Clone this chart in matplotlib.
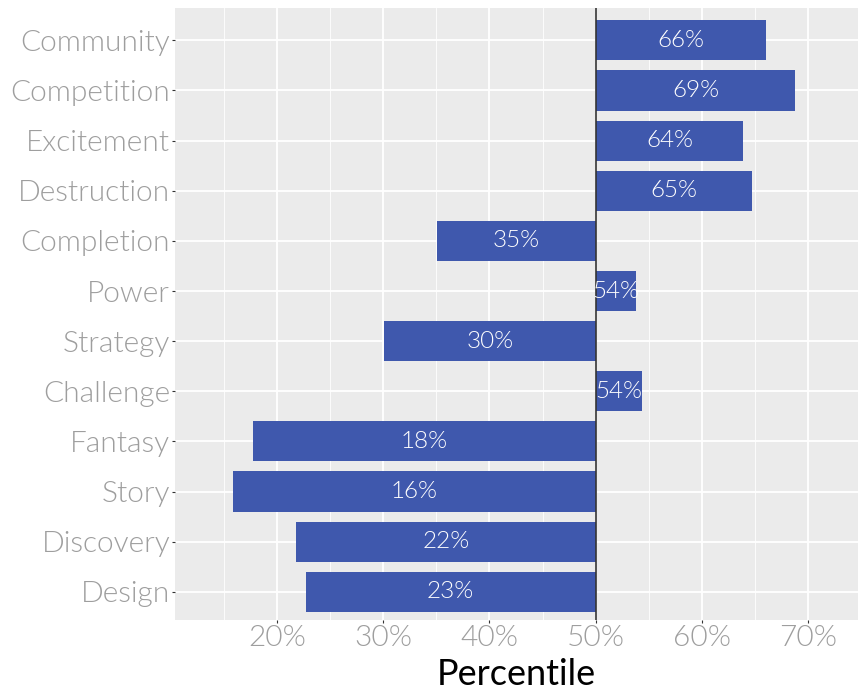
import matplotlib
matplotlib.use('Agg')
import matplotlib.pyplot as plt
import numpy as np

# Motivation percentiles (top to bottom)
categories = ["Community", "Competition", "Excitement", "Destruction", "Completion",
              "Power", "Strategy", "Challenge", "Fantasy", "Story", "Discovery", "Design"]
values = [66.0, 68.8, 63.9, 64.7, 35.1, 53.8, 30.1, 54.4, 17.7, 15.9, 21.8, 22.7]
labels = ["66%", "69%", "64%", "65%", "35%", "54%", "30%", "54%", "18%", "16%", "22%", "23%"]
xticks = [20, 30, 40, 50, 60, 70]
baseline = 50

plt.rcParams['font.family'] = ['Lato', 'DejaVu Sans']
w = 300  # Lato Light

fig = plt.figure(figsize=(8.58, 6.91), dpi=100)
ax = fig.add_axes([0.204, 0.103, 0.796, 0.885])
ax.set_facecolor('#EBEBEB')

y = np.arange(len(categories))[::-1]
vals = np.array(values)

ax.set_axisbelow(True)
ax.set_xticks(xticks)
ax.set_xticks([15, 25, 35, 45, 55, 65, 75], minor=True)
ax.grid(which='major', color='white', linewidth=1.3)
ax.grid(which='minor', axis='x', color='white', linewidth=0.6)

ax.barh(y, vals - baseline, left=baseline, height=0.8, color='#3F58AD', zorder=2)
ax.axvline(baseline, color='#333333', linewidth=1.2, zorder=3)

for yi, v, lab in zip(y, vals, labels):
    ax.text((v + baseline) / 2, yi, lab, ha='center', va='center',
            color='white', fontsize=17.5, fontweight=w, zorder=4)

ax.set_xlim(10.4, 74.7)
ax.set_ylim(-0.56, 11.64)
ax.set_yticks(y)
ax.set_yticklabels(categories, fontweight=w)
ax.set_xticklabels([f"{t}%" for t in xticks], fontweight=w)
ax.tick_params(axis='both', which='major', colors='#333333', labelcolor='#9E9E9E',
               labelsize=21.5, length=2.5, width=0.8, pad=1)
ax.tick_params(axis='x', which='minor', length=0)
for s in ax.spines.values():
    s.set_visible(False)

ax.set_xlabel("Percentile", fontsize=26, fontweight='normal', color='black', labelpad=5)

fig.savefig("out.png", dpi=100)
